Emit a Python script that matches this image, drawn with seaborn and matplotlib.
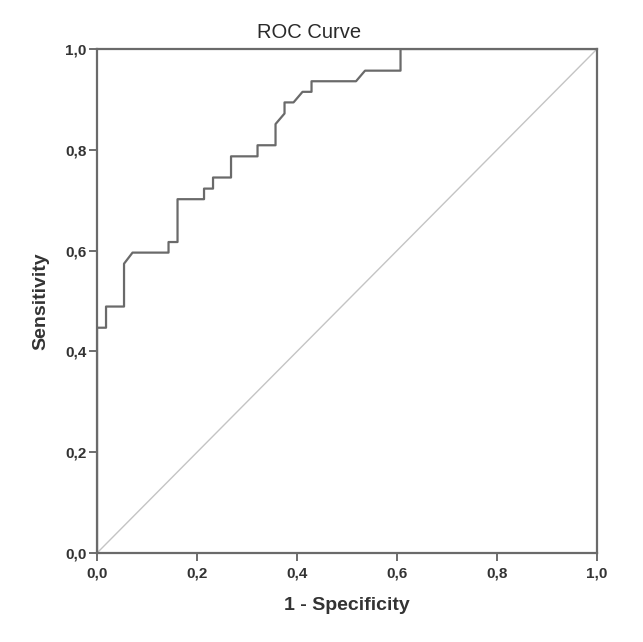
import matplotlib
matplotlib.use("Agg")
import matplotlib.pyplot as plt
import seaborn as sns
import pandas as pd
from matplotlib.ticker import FuncFormatter

sns.set_style("white")
plt.rcParams['font.family'] = ['Liberation Sans', 'DejaVu Sans']

# ROC curve points (1 - specificity, sensitivity)
fpr = [0.0, 0.0, 0.018, 0.018, 0.054, 0.054, 0.071, 0.143, 0.143, 0.161, 0.161,
       0.214, 0.214, 0.232, 0.232, 0.268, 0.268, 0.321, 0.321, 0.357, 0.357,
       0.375, 0.375, 0.393, 0.411, 0.429, 0.429, 0.518, 0.536, 0.607, 0.607, 1.0]
tpr = [0.0, 0.447, 0.447, 0.489, 0.489, 0.574, 0.596, 0.596, 0.617, 0.617, 0.702,
       0.702, 0.723, 0.723, 0.745, 0.745, 0.787, 0.787, 0.809, 0.809, 0.851,
       0.872, 0.894, 0.894, 0.915, 0.915, 0.936, 0.936, 0.957, 0.957, 1.0, 1.0]
ref_x = [0.0, 1.0]
ref_y = [0.0, 1.0]
ticks = [0.0, 0.2, 0.4, 0.6, 0.8, 1.0]

roc = pd.DataFrame({"fpr": fpr, "tpr": tpr})
ref = pd.DataFrame({"x": ref_x, "y": ref_y})

fig = plt.figure(figsize=(6.43, 6.42), dpi=100)
ax = fig.add_axes([0.1509, 0.1386, 0.7776, 0.7851])

sns.lineplot(data=ref, x="x", y="y", ax=ax, color="#c4c4c4", linewidth=1.0,
             estimator=None, sort=False)
sns.lineplot(data=roc, x="fpr", y="tpr", ax=ax, color="#6a6a6a", linewidth=1.6,
             estimator=None, sort=False)

ax.set_xlim(0, 1)
ax.set_ylim(0, 1)
ax.set_xticks(ticks)
ax.set_yticks(ticks)
fmt = FuncFormatter(lambda v, p: f"{v:.1f}".replace(".", ","))
ax.xaxis.set_major_formatter(fmt)
ax.yaxis.set_major_formatter(fmt)
ax.tick_params(axis="both", direction="out", length=6, width=1.2, color="#555555",
               labelsize=11, labelcolor="#333333", bottom=True, left=True)
ax.tick_params(axis="x", pad=4)
ax.tick_params(axis="y", pad=1.5)
for lab in ax.get_xticklabels() + ax.get_yticklabels():
    lab.set_fontweight("bold")
for s in ax.spines.values():
    s.set_color("#6a6a6a")
    s.set_linewidth(1.6)

ax.set_xlabel("1 - Specificity", fontsize=14, fontweight="bold", color="#333333")
ax.set_ylabel("Sensitivity", fontsize=14, fontweight="bold", color="#333333")
ax.xaxis.set_label_coords(0.5, -0.105)
ax.xaxis.label.set_va("center")
ax.yaxis.set_label_coords(-0.113, 0.5)
ax.yaxis.label.set_va("center")
fig.text(309 / 643, 1 - 32 / 642, "ROC Curve", fontsize=14.5, color="#2a2a2a",
         ha="center", va="center")

fig.savefig("out.png", dpi=100)
